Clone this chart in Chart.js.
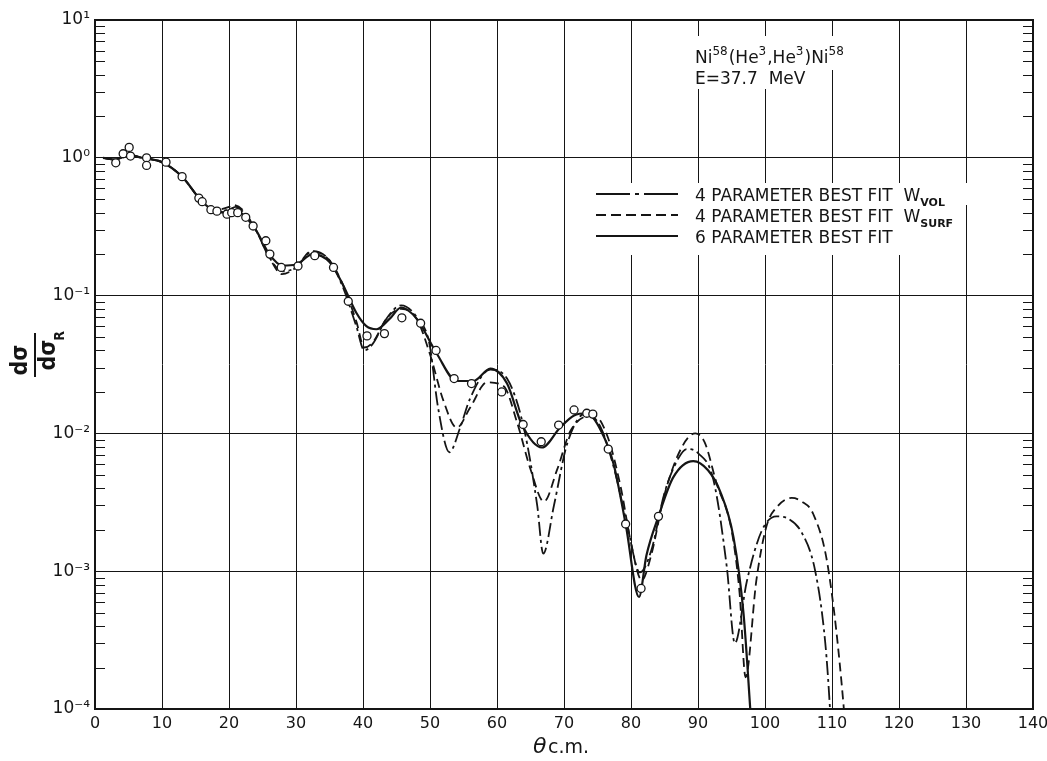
<!DOCTYPE html>
<html>
<head>
<meta charset="utf-8">
<script src="https://cdn.jsdelivr.net/npm/chart.js@4.4.1/dist/chart.umd.min.js"></script>
<style>
  body { margin: 0; background: #fff; }
  #wrap { width: 1047px; height: 761px; }
</style>
</head>
<body>
<div id="wrap"><canvas id="chart"></canvas></div>
<script>
// ===== DATA =====
const xTickValues = [0, 10, 20, 30, 40, 50, 60, 70, 80, 90, 100, 110, 120, 130, 140];
const yTickValues = [1e-4, 1e-3, 1e-2, 1e-1, 1, 10];
const yTickLabels = ["10⁻⁴", "10⁻³", "10⁻²", "10⁻¹", "10⁰", "10¹"];

// measured points (open circles)
const measTheta = [3.1, 4.2, 5.1, 5.3, 7.7, 7.7, 10.6, 13.0, 15.5, 16.0, 17.3, 18.2, 19.7, 20.4, 21.3, 22.5,
  23.6, 25.5, 26.1, 27.8, 30.3, 32.8, 35.6, 37.8, 40.6, 43.2, 45.8, 48.6, 50.9, 53.6, 56.2, 60.7,
  63.9, 66.6, 69.2, 71.5, 73.4, 74.3, 76.6, 79.2, 81.5, 84.1];
const measRatio = [0.92, 1.07, 1.19, 1.03, 1.0, 0.88, 0.93, 0.73, 0.51, 0.48, 0.42, 0.41, 0.39, 0.40, 0.40, 0.37,
  0.32, 0.25, 0.20, 0.16, 0.164, 0.195, 0.16, 0.091, 0.051, 0.053, 0.069, 0.063, 0.040, 0.025, 0.023, 0.020,
  0.0116, 0.0087, 0.0115, 0.0148, 0.0140, 0.0138, 0.0077, 0.0022, 0.00075, 0.0025];

// 6 parameter best fit (solid)
const sixTheta = [1.2, 3, 5, 7, 10, 13, 16, 18, 20, 21, 22, 24, 26, 28, 30, 32.5, 35, 37, 39, 40.5, 42, 44,
  45.7, 48, 51, 54, 56.5, 59, 61.5, 63.7, 66.7, 69.4, 71.5, 73.4, 75.5, 77.4, 79.2, 81.2, 82.3, 84.1, 86.3,
  89.3, 91.5, 93.3, 95.3, 96.8, 97.8, 98.2];
const sixRatio = [1.0, 0.97, 1.05, 1.0, 0.93, 0.73, 0.48, 0.41, 0.40, 0.41, 0.39, 0.30, 0.20, 0.165, 0.168, 0.20,
  0.175, 0.12, 0.075, 0.06, 0.057, 0.068, 0.082, 0.068, 0.038, 0.024, 0.024, 0.0295, 0.023, 0.0116, 0.0079,
  0.011, 0.0135, 0.014, 0.0105, 0.006, 0.0022, 0.00065, 0.0013, 0.0025, 0.0048, 0.0063, 0.0054, 0.0038,
  0.00176, 0.00049, 0.0001, 0.00005];

// 4 parameter best fit W_VOL (dash-dot)
const volTheta = [1.2, 3, 5, 7, 10, 13, 16, 18, 20, 21, 22, 24, 26, 28, 30, 32.5, 35, 37, 39, 40.2, 41.5, 43.5,
  45.7, 48, 49.9, 51.2, 52.9, 54.5, 56, 59, 61.5, 64, 66, 66.9, 68.5, 70.5, 73.3, 75.5, 77.5, 79.5, 81.3, 83,
  85, 87, 88.3, 90, 92.3, 94.3, 95.5, 97.3, 99.5, 101.7, 103.5, 105.5, 107.5, 109, 109.7, 110];
const volRatio = [1.0, 0.97, 1.05, 1.0, 0.93, 0.73, 0.48, 0.41, 0.42, 0.44, 0.41, 0.30, 0.19, 0.15, 0.16, 0.21,
  0.18, 0.115, 0.06, 0.040, 0.045, 0.068, 0.085, 0.07, 0.045, 0.0154, 0.0073, 0.011, 0.018, 0.029, 0.025,
  0.011, 0.003, 0.00134, 0.003, 0.0085, 0.014, 0.011, 0.0055, 0.0021, 0.00098, 0.0014, 0.0037, 0.0065,
  0.0077, 0.0072, 0.0046, 0.00107, 0.0003, 0.00085, 0.00196, 0.0025, 0.0024, 0.0019, 0.0010, 0.0003, 0.0001, 0.00005];

// 4 parameter best fit W_SURF (dashed)
const surfTheta = [1.2, 3, 5, 7, 10, 13, 16, 18, 20, 20.6, 22, 24, 26, 27.9, 30, 32.3, 35, 37, 39, 40.2, 41.5,
  43.5, 45.7, 48, 50, 52, 54, 56, 58.5, 61, 63, 65, 67, 69, 71, 74.5, 76.5, 78.5, 80, 81.6, 83, 85, 87.5,
  89.6, 91, 92.8, 95, 96.2, 97.1, 98.7, 100.2, 102, 104, 105.5, 107.2, 109.4, 111.7, 112.2];
const surfRatio = [1.0, 0.97, 1.05, 1.0, 0.93, 0.73, 0.48, 0.42, 0.44, 0.455, 0.42, 0.30, 0.19, 0.143, 0.16,
  0.21, 0.18, 0.12, 0.065, 0.042, 0.046, 0.068, 0.080, 0.068, 0.0375, 0.0173, 0.011, 0.0154, 0.0235, 0.022,
  0.012, 0.0055, 0.0032, 0.0055, 0.0105, 0.0135, 0.0095, 0.004, 0.0016, 0.00086, 0.0013, 0.0036, 0.0078,
  0.0100, 0.0086, 0.0043, 0.0020, 0.0007, 0.00017, 0.00085, 0.0021, 0.0030, 0.0034, 0.0032, 0.0026,
  0.00107, 0.00011, 0.00005];

const legendLabels = ["4 PARAMETER BEST FIT", "4 PARAMETER BEST FIT", "6 PARAMETER BEST FIT"];
const legendSubs = ["VOL", "SURF", ""];

const INK = "#151515";
const FONT = '"DejaVu Sans", sans-serif';

function toPoints(xs, ys) {
  return xs.map((x, i) => ({ x: x, y: ys[i] }));
}

// ===== DECORATION PLUGIN =====
// minor ticks, frame, axis titles, legend, reaction text
const decor = {
  id: "decor",
  beforeDatasetsDraw(chart) {
    const ctx = chart.ctx;
    ctx.save();
    ctx.fillStyle = "#fff";
    // white patches behind the text blocks
    ctx.fillRect(690, 36, 165, 34);
    ctx.fillRect(690, 70, 120, 19);
    ctx.fillRect(590, 183, 395, 22);
    ctx.fillRect(590, 205, 368, 50);
    ctx.restore();
  },
  afterDraw(chart) {
    const ctx = chart.ctx;
    const area = chart.chartArea;
    const y = chart.scales.y;
    ctx.save();
    ctx.strokeStyle = INK;

    // minor ticks on both sides, pointing inward
    ctx.lineWidth = 1.2;
    for (let e = -4; e < 1; e++) {
      for (let k = 2; k <= 9; k++) {
        const py = Math.round(y.getPixelForValue(k * Math.pow(10, e))) + 0.5;
        ctx.beginPath();
        ctx.moveTo(area.left, py); ctx.lineTo(area.left + 10, py);
        ctx.moveTo(area.right, py); ctx.lineTo(area.right - 10, py);
        ctx.stroke();
      }
    }

    // frame
    ctx.lineWidth = 2;
    ctx.strokeRect(area.left, area.top, area.right - area.left, area.bottom - area.top);

    ctx.fillStyle = INK;

    // y title: d sigma / d sigma_R, rotated
    ctx.save();
    ctx.translate(35, 355);
    ctx.rotate(-Math.PI / 2);
    ctx.textAlign = "center";
    ctx.textBaseline = "alphabetic";
    ctx.font = 'bold 23px "DejaVu Sans Condensed", ' + FONT;
    ctx.fillText("dσ", -5, -8);
    ctx.fillText("dσ", 0, 20);
    ctx.font = 'bold 14px "DejaVu Sans Condensed", ' + FONT;
    ctx.fillText("R", 19, 29);
    ctx.lineWidth = 2;
    ctx.beginPath();
    ctx.moveTo(-22, 0); ctx.lineTo(22, 0);
    ctx.stroke();
    ctx.restore();

    // x title: theta c.m.
    ctx.textAlign = "left";
    ctx.textBaseline = "alphabetic";
    ctx.font = "italic 22px " + FONT;
    ctx.fillText("θ", 533, 753);
    ctx.font = "19px " + FONT;
    ctx.fillText("c.m.", 548, 753);

    // reaction text
    drawRich(ctx, [["Ni"], ["58", "sup"], ["(He"], ["3", "sup"], [",He"], ["3", "sup"], [")Ni"], ["58", "sup"]], 695, 63);
    drawRich(ctx, [["E=37.7  MeV"]], 695, 84);

    // legend
    const rows = [194, 215, 236];
    const dashes = [[34, 5, 4, 5], [10, 5], []];
    rows.forEach((ry, i) => {
      ctx.save();
      ctx.lineWidth = 1.8;
      ctx.setLineDash(dashes[i]);
      ctx.beginPath();
      ctx.moveTo(596, ry); ctx.lineTo(678, ry);
      ctx.stroke();
      ctx.restore();
      const parts = [[legendLabels[i] + "  "]];
      if (legendSubs[i]) parts.push(["W"], [legendSubs[i], "sub"]);
      drawRich(ctx, parts, 695, ry + 7);
    });

    ctx.restore();
  }
};

function drawRich(ctx, parts, x, baseline) {
  parts.forEach(p => {
    let dy = 0;
    if (p[1] === "sup") { ctx.font = "12px " + FONT; dy = -8; }
    else if (p[1] === "sub") { ctx.font = "bold 11px " + FONT; dy = 5; }
    else ctx.font = "17px " + FONT;
    ctx.fillText(p[0], x, baseline + dy);
    x += ctx.measureText(p[0]).width + (p[1] ? 1 : 0);
  });
}

// ===== CHART =====
const lineBase = {
  showLine: true,
  pointRadius: 0,
  borderColor: INK,
  backgroundColor: INK,
  cubicInterpolationMode: "monotone",
  order: 1
};

new Chart(document.getElementById("chart"), {
  type: "scatter",
  data: {
    datasets: [
      {
        label: "data",
        data: toPoints(measTheta, measRatio),
        pointRadius: 4,
        pointBorderWidth: 1.3,
        pointBorderColor: INK,
        pointBackgroundColor: "#fff",
        showLine: false,
        order: 0
      },
      Object.assign({}, lineBase, { label: "6 PARAMETER BEST FIT", data: toPoints(sixTheta, sixRatio), borderWidth: 2.2 }),
      Object.assign({}, lineBase, { label: "4 PARAMETER BEST FIT W VOL", data: toPoints(volTheta, volRatio), borderWidth: 1.8, borderDash: [14, 4, 3, 4] }),
      Object.assign({}, lineBase, { label: "4 PARAMETER BEST FIT W SURF", data: toPoints(surfTheta, surfRatio), borderWidth: 1.8, borderDash: [9, 5] })
    ]
  },
  options: {
    responsive: true,
    maintainAspectRatio: false,
    animation: false,
    layout: { padding: { top: 20, right: 14, left: 0, bottom: 0 } },
    plugins: {
      legend: { display: false },
      tooltip: { enabled: false }
    },
    scales: {
      x: {
        type: "linear",
        min: 0,
        max: 140,
        afterBuildTicks: s => { s.ticks = xTickValues.map(v => ({ value: v })); },
        afterFit: s => { s.height = 52; s.paddingRight = 6; s.paddingLeft = 6; },
        grid: { color: INK, lineWidth: 1, drawTicks: false },
        border: { display: false },
        ticks: { color: INK, font: { family: FONT, size: 16 }, padding: 5, maxRotation: 0 }
      },
      y: {
        type: "logarithmic",
        min: 1e-4,
        max: 10,
        afterBuildTicks: s => { s.ticks = yTickValues.map(v => ({ value: v })); },
        afterFit: s => { s.width = 95; },
        grid: { color: INK, lineWidth: 1, drawTicks: false },
        border: { display: false },
        ticks: {
          color: INK,
          font: { family: FONT, size: 17 },
          padding: 5,
          callback: v => {
            const i = yTickValues.findIndex(t => Math.abs(Math.log10(t) - Math.log10(v)) < 1e-6);
            return i >= 0 ? yTickLabels[i] : "";
          }
        }
      }
    }
  },
  plugins: [decor]
});
</script>
</body>
</html>
